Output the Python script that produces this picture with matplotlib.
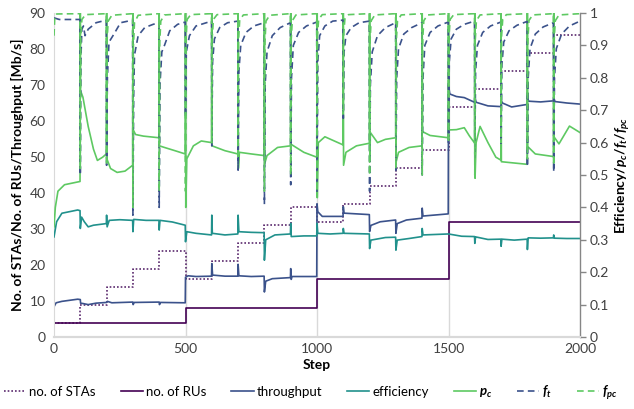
import matplotlib
matplotlib.use("Agg")
import matplotlib.pyplot as plt

plt.rcParams['font.family'] = ['Lato', 'DejaVu Sans']
plt.rcParams['mathtext.fontset'] = 'custom'
plt.rcParams['mathtext.it'] = 'Lato:italic:bold'
plt.rcParams['mathtext.rm'] = 'Lato:bold'

# ---------------------------------------------------------------
# series (primary axis)
# ---------------------------------------------------------------
sta_steps = [0, 100, 200, 300, 400, 500, 600, 700, 800, 900, 1000,
             1100, 1200, 1300, 1400, 1500, 1600, 1700, 1800, 1900, 2000]
sta_count = [4, 9, 14, 19, 24, 16, 21, 26, 31, 36, 32,
             37, 42, 47, 52, 64, 69, 74, 79, 84, 84]

ru_steps = [0, 500, 1000, 1500, 2000]
ru_count = [4, 8, 16, 32, 32]

throughput = [
    (0, 8.4), (8, 9.5), (30, 9.9), (90, 10.5), (100, 10.4), (101, 9.4), (110, 9.3),
    (130, 9.0), (160, 9.4), (200, 9.6), (203, 9.9), (220, 9.5), (300, 9.7), (301, 9.0),
    (305, 9.6), (400, 9.7), (401, 9.0), (405, 9.6), (499, 9.5),
    (500, 16.6), (510, 17.0), (540, 16.8), (599, 16.9), (600, 20.4), (603, 17.2),
    (650, 16.9), (699, 16.9), (700, 20.2), (703, 17.0), (750, 16.8), (799, 16.9),
    (800, 12.5), (805, 15.5), (830, 16.2), (899, 16.5), (900, 19.0), (902, 16.0),
    (905, 16.8), (999, 16.8),
    (1000, 37.0), (1003, 34.8), (1020, 33.5), (1099, 33.5), (1100, 36.2), (1103, 34.4),
    (1199, 34.0), (1200, 29.3), (1205, 31.0), (1240, 32.0), (1299, 32.5), (1300, 28.8),
    (1305, 31.5), (1340, 32.5), (1399, 33.0), (1400, 35.8), (1403, 33.6), (1499, 34.2),
    (1500, 70.0), (1505, 67.5), (1530, 66.8), (1560, 66.5), (1599, 65.2), (1600, 66.5),
    (1605, 65.2), (1650, 64.2), (1699, 64.0), (1700, 65.8), (1705, 65.0), (1740, 63.9),
    (1799, 64.6), (1800, 66.4), (1805, 65.5), (1850, 65.3), (1899, 65.6), (1900, 66.2),
    (1905, 65.4), (1950, 65.0), (2000, 64.7),
]

# ---------------------------------------------------------------
# series (secondary axis)
# ---------------------------------------------------------------
efficiency = [
    (0, .309), (10, .356), (30, .382), (90, .392), (99, .39), (100, .335), (105, .37),
    (115, .356), (130, .34), (150, .345), (199, .35), (200, .376), (202, .34), (210, .36),
    (250, .362), (299, .36), (300, .325), (303, .363), (350, .36), (399, .36), (400, .33),
    (403, .36), (450, .355), (499, .345),
    (500, .294), (505, .325), (540, .32), (599, .315), (600, .376), (602, .32), (650, .315),
    (699, .318), (700, .376), (703, .325), (750, .323), (799, .322), (800, .237), (805, .30),
    (840, .315), (899, .318), (900, .351), (902, .31), (950, .312), (999, .312),
    (1000, .35), (1003, .32), (1050, .318), (1099, .32), (1100, .335), (1103, .32),
    (1199, .318), (1200, .273), (1205, .299), (1260, .307), (1299, .308), (1300, .268),
    (1305, .299), (1350, .304), (1399, .31), (1400, .335), (1403, .315), (1499, .318),
    (1500, .318), (1550, .311), (1599, .31), (1600, .289), (1603, .309), (1650, .301),
    (1699, .302), (1700, .28), (1703, .302), (1750, .299), (1799, .302), (1800, .27),
    (1803, .306), (1850, .305), (1899, .306), (1900, .315), (1903, .305), (1950, .304),
    (2000, .304),
]

p_c = [
    (0, .34), (5, .40), (15, .45), (40, .47), (99, .48),
    (100, 1.0), (101, .76), (110, .74), (130, .65), (150, .58), (165, .545), (185, .555), (199, .565),
    (200, 1.0), (201, .55), (215, .52), (240, .508), (270, .512), (299, .53),
    (300, 1.0), (301, .64), (310, .625), (340, .62), (399, .615),
    (400, 1.0), (401, .59), (420, .585), (460, .575), (499, .565),
    (500, 1.0), (501, .40), (505, .55), (530, .59), (560, .605), (599, .60),
    (600, 1.0), (601, .59), (650, .575), (699, .565),
    (700, 1.0), (701, .52), (705, .57), (750, .565), (799, .56),
    (800, 1.0), (801, .535), (810, .56), (850, .585), (899, .59),
    (900, 1.0), (901, .595), (950, .57), (999, .555),
    (1000, 1.0), (1001, .43), (1005, .60), (1030, .618), (1099, .593),
    (1100, 1.0), (1101, .53), (1110, .57), (1150, .59), (1199, .598),
    (1200, 1.0), (1201, .546), (1203, .631), (1230, .60), (1260, .61), (1299, .615),
    (1300, 1.0), (1301, .541), (1310, .57), (1350, .585), (1399, .59),
    (1400, 1.0), (1401, .634), (1430, .622), (1499, .615),
    (1500, 1.0), (1501, .639), (1530, .64), (1560, .646), (1580, .62), (1599, .599),
    (1600, 1.0), (1601, .49), (1605, .60), (1620, .65), (1650, .60), (1680, .555), (1699, .546),
    (1700, 1.0), (1701, .541), (1750, .537), (1799, .533),
    (1800, 1.0), (1801, .588), (1830, .565), (1899, .557),
    (1900, 1.0), (1901, .618), (1920, .596), (1960, .651), (2000, .631),
]

f_t = [
    (0, .985), (20, .98), (99, .98),
    (100, .50), (102, .85), (106, .95), (112, .96), (118, .93), (130, .95), (160, .97), (199, .978),
    (200, .53), (203, .80), (209, .91), (228, .935), (253, .97), (299, .978),
    (300, .376), (303, .75), (306, .87), (320, .93), (345, .955), (377, .965), (399, .97),
    (400, .40), (403, .78), (410, .88), (420, .90), (440, .945), (470, .965), (499, .972),
    (500, .68), (503, .88), (515, .93), (540, .96), (599, .975),
    (600, .59), (603, .85), (610, .92), (630, .955), (660, .97), (699, .975),
    (700, .515), (703, .82), (710, .90), (730, .94), (760, .96), (799, .97),
    (800, .41), (803, .78), (810, .88), (830, .93), (860, .955), (899, .97),
    (900, .47), (903, .80), (910, .90), (930, .94), (960, .96), (999, .972),
    (1000, .45), (1003, .85), (1010, .93), (1030, .96), (1060, .975), (1099, .978),
    (1100, .675), (1103, .88), (1110, .93), (1130, .955), (1160, .97), (1199, .975),
    (1200, .45), (1203, .78), (1210, .88), (1230, .93), (1260, .955), (1299, .97),
    (1300, .515), (1303, .80), (1310, .89), (1330, .935), (1360, .955), (1399, .97),
    (1400, .50), (1403, .80), (1410, .90), (1430, .94), (1460, .96), (1499, .972),
    (1500, .60), (1503, .85), (1510, .92), (1530, .95), (1560, .965), (1599, .975),
    (1600, .55), (1603, .82), (1610, .90), (1630, .94), (1660, .96), (1699, .972),
    (1700, .59), (1703, .84), (1710, .91), (1730, .945), (1760, .962), (1799, .974),
    (1800, .526), (1803, .80), (1810, .89), (1830, .935), (1860, .957), (1899, .97),
    (1900, .51), (1903, .80), (1910, .89), (1930, .935), (1960, .96), (2000, .975),
]

f_pc = [
    (0, .93), (3, .99), (10, .997), (99, .998),
    (100, .52), (102, .93), (106, .98), (120, .995), (199, .998),
    (200, .53), (202, .92), (206, .975), (220, .993), (299, .998),
    (300, .40), (302, .90), (306, .97), (320, .993), (399, .998),
    (400, .45), (402, .91), (406, .975), (420, .994), (499, .998),
    (500, .45), (502, .92), (506, .98), (520, .995), (599, .998),
    (600, .60), (602, .93), (606, .98), (620, .995), (699, .998),
    (700, .55), (702, .92), (706, .978), (720, .994), (799, .998),
    (800, .45), (802, .91), (806, .975), (820, .993), (899, .998),
    (900, .50), (902, .92), (906, .976), (920, .994), (999, .998),
    (1000, .45), (1002, .93), (1006, .98), (1020, .995), (1099, .998),
    (1100, .70), (1102, .94), (1106, .982), (1120, .995), (1199, .998),
    (1200, .50), (1202, .92), (1206, .976), (1220, .994), (1299, .998),
    (1300, .52), (1302, .92), (1306, .976), (1320, .994), (1399, .998),
    (1400, .50), (1402, .92), (1406, .976), (1420, .994), (1499, .998),
    (1500, .60), (1502, .93), (1506, .98), (1520, .995), (1599, .998),
    (1600, .50), (1602, .92), (1606, .976), (1620, .994), (1699, .998),
    (1700, .60), (1702, .93), (1706, .98), (1720, .995), (1799, .998),
    (1800, .55), (1802, .92), (1806, .977), (1820, .994), (1899, .998),
    (1900, .53), (1902, .92), (1906, .976), (1920, .994), (2000, .998),
]

# viridis-like palette
c_sta = '#5b2a6e'
c_ru = '#440154'
c_thr = '#3b528b'
c_eff = '#21918c'
c_pc = '#5ec962'

fig = plt.figure(figsize=(6.34, 4.09), dpi=100)
ax = fig.add_axes([54 / 634, 1 - 337 / 409, 526 / 634, 324 / 409])
ax2 = ax.twinx()

for s in (500, 1000, 1500):
    ax.axvline(s, color='#d9d9d9', lw=1.0, zorder=0)

lw = 1.2
ax.plot(sta_steps, sta_count, drawstyle='steps-post', color=c_sta, lw=1.2,
        ls=(0, (1, 1.2)), label='no. of STAs')
ax.plot(ru_steps, ru_count, drawstyle='steps-post', color=c_ru, lw=lw, label='no. of RUs')
ax.plot(*zip(*throughput), color=c_thr, lw=lw, label='throughput')

ax2.plot(*zip(*efficiency), color=c_eff, lw=lw, label='efficiency')
ax2.plot(*zip(*p_c), color=c_pc, lw=lw, label='$p_c$')
ax2.plot(*zip(*f_t), color=c_thr, lw=lw, ls=(0, (4, 2.5)), label='$f_t$')
ax2.plot(*zip(*f_pc), color=c_pc, lw=lw, ls=(0, (4, 2.5)), label='$f_{pc}$')

ax.set_xlim(0, 2000)
ax.set_ylim(0, 90)
ax2.set_ylim(0, 1)
ax.set_xticks([0, 500, 1000, 1500, 2000])
ax.set_yticks(range(0, 91, 10))
ax2.set_yticks([i / 10 for i in range(11)])
ax2.set_yticklabels(['0', '0.1', '0.2', '0.3', '0.4', '0.5', '0.6', '0.7', '0.8', '0.9', '1'])

for a in (ax, ax2):
    a.spines['top'].set_visible(False)
    a.spines['left'].set_color('#d9d9d9')
    a.spines['bottom'].set_color('#d9d9d9')
    a.spines['bottom'].set_linewidth(1.5)
ax2.spines['left'].set_visible(False)
ax.spines['right'].set_visible(False)
ax2.spines['right'].set_color('#868686')
ax2.spines['right'].set_linewidth(1.0)

ax.tick_params(axis='both', length=0, labelsize=10, colors='#404040', pad=6)
ax.tick_params(axis='x', pad=4)
ax2.tick_params(axis='y', length=4, width=1.0, colors='#868686', labelcolor='#404040',
                labelsize=10, pad=3)

ax.set_xlabel('Step', fontsize=10, fontweight='bold', labelpad=3)
ax.set_ylabel('No. of STAs/No. of RUs/Throughput [Mb/s]', fontsize=10,
              fontweight='bold', labelpad=4)
ax2.set_ylabel('Efficiency/$p_c$/$f_t$/$f_{pc}$', fontsize=10, fontweight='bold',
               labelpad=3)

h1, l1 = ax.get_legend_handles_labels()
h2, l2 = ax2.get_legend_handles_labels()
fig.legend(h1 + h2, l1 + l2, loc='center', bbox_to_anchor=(0.49, 0.04), ncol=7,
           frameon=False, fontsize=9.5, handlelength=1.7, handletextpad=0.2,
           columnspacing=1.9)

fig.savefig('out.png', dpi=100)
